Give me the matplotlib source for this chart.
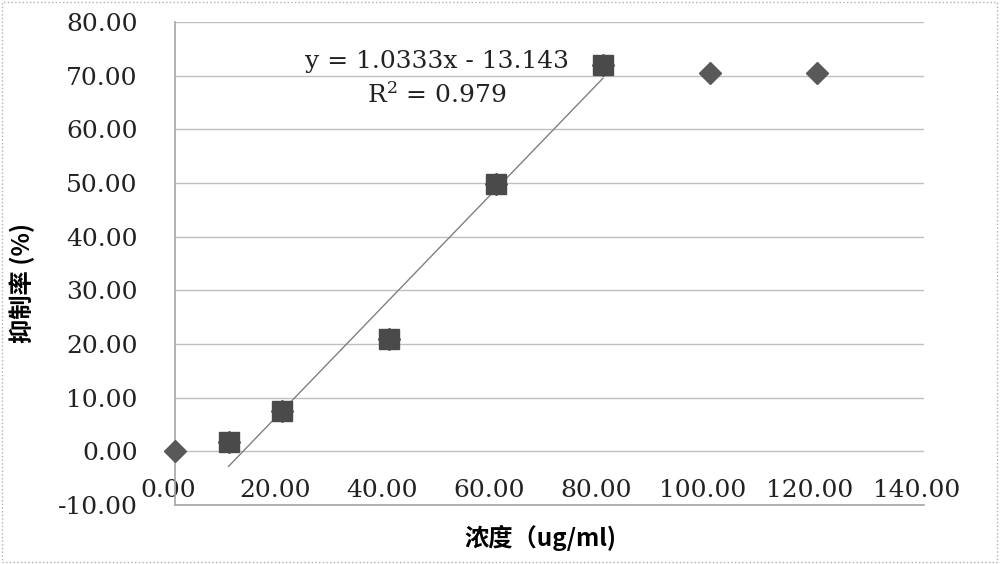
import matplotlib
matplotlib.use('Agg')
import matplotlib.pyplot as plt
from matplotlib.patches import Rectangle
from matplotlib.transforms import ScaledTranslation

plt.rcParams['font.family'] = ['DejaVu Serif']
plt.rcParams['mathtext.fontset'] = 'dejavuserif'

# 数据
conc_all = [0, 10, 20, 40, 60, 80, 100, 120]
rate_all = [0.0, 1.8, 7.6, 21.0, 49.8, 72.0, 70.5, 70.5]
conc_fit = [10, 20, 40, 60, 80]
rate_fit = [1.8, 7.6, 21.0, 49.8, 72.0]
slope, intercept = 1.0333, -13.143
x_ticks = [0, 20, 40, 60, 80, 100, 120, 140]
y_ticks = [-10, 0, 10, 20, 30, 40, 50, 60, 70, 80]

fig = plt.figure(figsize=(10, 5.64), dpi=100)
ax = fig.add_axes([0.175, 0.1046, 0.749, 0.8564])

ax.set_xlim(0, 140)
ax.set_ylim(-10, 80)
ax.set_xticks(x_ticks)
ax.set_yticks(y_ticks)
ax.set_xticklabels(['%.2f' % v for v in x_ticks])
ax.set_yticklabels(['%.2f' % v for v in y_ticks])
ax.tick_params(axis='both', length=0, labelsize=18, colors='#222222')
ax.tick_params(axis='x', pad=-19)
ax.tick_params(axis='y', pad=27)
for lab in ax.get_xticklabels():
    lab.set_transform(lab.get_transform() + ScaledTranslation(-0.07, 0, fig.dpi_scale_trans))

ax.grid(axis='y', color='#bfbfbf', lw=1)
ax.set_axisbelow(True)
for s in ['top', 'right']:
    ax.spines[s].set_visible(False)
for s in ['left', 'bottom']:
    ax.spines[s].set_color('#a6a6a6')
    ax.spines[s].set_linewidth(1.2)

# 数据点和趋势线
ax.plot(conc_all, rate_all, 'D', ms=11.5, color='#595959', zorder=3, clip_on=False)
ax.plot(conc_fit, rate_fit, 's', ms=14, color='#4a4a4a', zorder=4, clip_on=False)
xl = [conc_fit[0], conc_fit[-1]]
ax.plot(xl, [slope * v + intercept for v in xl], color='#808080', lw=1, zorder=2)

ax.text(49, 72.7, 'y = 1.0333x - 13.143', fontsize=18, ha='center', va='center', color='#222222')
ax.text(49, 66.4, 'R$^2$ = 0.979', fontsize=18, ha='center', va='center', color='#222222')

cjk = ['Noto Sans CJK SC', 'DejaVu Sans']
fig.text(0.54, 0.046, '浓度（ug/ml)', fontsize=17.5, fontweight='bold', family=cjk,
         ha='center', va='center')
fig.text(0.022, 0.498, '抑制率 (%)', fontsize=17.5, fontweight='bold', family=cjk,
         ha='center', va='center', rotation=90)

fig.patches.append(Rectangle((0.002, 0.003), 0.995, 0.994, transform=fig.transFigure,
                             fill=False, ls=':', color='#b0b0b0', lw=1))

plt.savefig('out.png', dpi=100)
